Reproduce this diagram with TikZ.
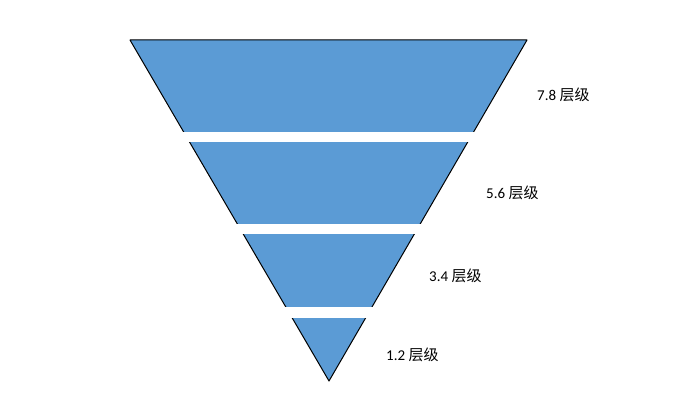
\documentclass[tikz,border=0pt]{standalone}
\usepackage{fontspec}
\setmainfont{Carlito}
\newfontfamily\cjk{Noto Sans CJK SC}
\begin{document}
\begin{tikzpicture}[x=1pt,y=-1pt,
  lbl/.style={font=\fontsize{15}{18}\selectfont, anchor=west, inner sep=0pt},
  band/.style={fill=white, draw=none}]
\useasboundingbox (0,0) rectangle (690,404);
\fill[fill={rgb,255:red,91;green,155;blue,213}] (130,40) -- (527,40) -- (329,381) -- cycle;
\draw[black, line width=1pt, line join=round] (130,40) coordinate (tl) -- (527,40) coordinate (tr) -- (329,381) coordinate (ap) -- cycle;
\fill[band] (100,132) rectangle (560,142);
\fill[band] (100,224) rectangle (560,234);
\fill[band] (100,307) rectangle (560,318);
\node[lbl] (l1) at (537,95) {7.8 {\cjk 层级}};
\node[lbl] (l2) at (486,193) {5.6 {\cjk 层级}};
\node[lbl] (l3) at (429,276) {3.4 {\cjk 层级}};
\node[lbl] (l4) at (386,355) {1.2 {\cjk 层级}};
\end{tikzpicture}
\end{document}
